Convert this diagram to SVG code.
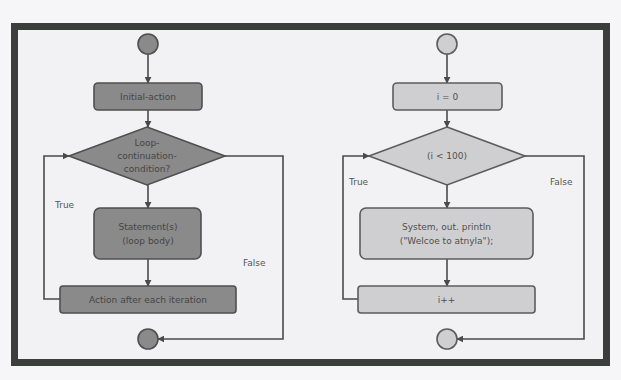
<svg xmlns="http://www.w3.org/2000/svg" width="621" height="380" viewBox="0 0 621 380">
  <defs>
    <marker id="ah" viewBox="0 0 10 10" refX="9" refY="5" markerWidth="7" markerHeight="7" orient="auto" markerUnits="userSpaceOnUse">
      <path d="M0,0 L10,5 L0,10 z" fill="#4a4a4a"/>
    </marker>
    <style>
      .dark { fill: #8a8a8a; stroke: #4f4f4f; stroke-width: 1.6; }
      .light { fill: #cfcfd1; stroke: #5c5c5c; stroke-width: 1.6; }
      .t { font-family: "DejaVu Sans", Verdana, sans-serif; font-size: 9px; text-anchor: middle; dominant-baseline: central; }
      .td { fill: #454545; }
      .tl { fill: #505050; }
      .lbl { font-family: "DejaVu Sans", Verdana, sans-serif; font-size: 9px; fill: #555; }
      .c { fill: none; stroke: #4a4a4a; stroke-width: 1.6; }
    </style>
  </defs>
  <rect x="0" y="0" width="621" height="380" fill="#f6f6f8"/>
  <rect x="14.5" y="26.5" width="592" height="336" fill="#f2f2f4" stroke="#3b3e3b" stroke-width="7"/>

  <g id="connectors">
    <!-- left -->
    <line class="c" x1="148" y1="54" x2="148" y2="83" marker-end="url(#ah)"/>
    <line class="c" x1="148" y1="110" x2="148" y2="127" marker-end="url(#ah)"/>
    <line class="c" x1="148" y1="185" x2="148" y2="208" marker-end="url(#ah)"/>
    <line class="c" x1="148" y1="259" x2="148" y2="286" marker-end="url(#ah)"/>
    <polyline class="c" points="60,299 44,299 44,156 69,156" marker-end="url(#ah)"/>
    <polyline class="c" points="225,156 283,156 283,339 158,339" marker-end="url(#ah)"/>
    <!-- right -->
    <line class="c" x1="447" y1="54" x2="447" y2="83" marker-end="url(#ah)"/>
    <line class="c" x1="447" y1="110" x2="447" y2="127" marker-end="url(#ah)"/>
    <line class="c" x1="447" y1="185" x2="447" y2="208" marker-end="url(#ah)"/>
    <line class="c" x1="447" y1="259" x2="447" y2="286" marker-end="url(#ah)"/>
    <polyline class="c" points="358,299 343,299 343,156 369,156" marker-end="url(#ah)"/>
    <polyline class="c" points="525,156 584,156 584,339 457,339" marker-end="url(#ah)"/>
    <text class="lbl" x="55" y="208">True</text>
    <text class="lbl" x="243" y="266">False</text>
    <text class="lbl" x="349" y="185">True</text>
    <text class="lbl" x="550" y="185">False</text>
  </g>

  <g id="start-left"><circle class="dark" cx="148" cy="44" r="10"/></g>
  <g id="initial-action">
    <rect class="dark" x="94" y="83" width="108" height="27" rx="4"/>
    <text class="t td" x="148" y="96.5">Initial-action</text>
  </g>
  <g id="loop-condition">
    <polygon class="dark" points="147,127 225,156 147,185 69,156"/>
    <text class="t td" x="147" y="143">Loop-</text>
    <text class="t td" x="147" y="156">continuation-</text>
    <text class="t td" x="147" y="169">condition?</text>
  </g>
  <g id="statements">
    <rect class="dark" x="94" y="208" width="107" height="51" rx="6"/>
    <text class="t td" x="148" y="227">Statement(s)</text>
    <text class="t td" x="148" y="241">(loop body)</text>
  </g>
  <g id="action-after">
    <rect class="dark" x="60" y="286" width="176" height="27" rx="3"/>
    <text class="t td" x="148" y="299.5">Action after each iteration</text>
  </g>
  <g id="end-left"><circle class="dark" cx="148" cy="339" r="10"/></g>

  <g id="start-right"><circle class="light" cx="447" cy="44" r="10"/></g>
  <g id="init-i">
    <rect class="light" x="393" y="83" width="109" height="27" rx="4"/>
    <text class="t tl" x="447.5" y="96.5">i = 0</text>
  </g>
  <g id="cond-i">
    <polygon class="light" points="447,127 525,156 447,185 369,156"/>
    <text class="t tl" x="447" y="156">(i &lt; 100)</text>
  </g>
  <g id="println">
    <rect class="light" x="360" y="208" width="173" height="51" rx="6"/>
    <text class="t tl" x="446.5" y="227">System, out. println</text>
    <text class="t tl" x="446.5" y="241">("Welcoe to atnyla");</text>
  </g>
  <g id="increment">
    <rect class="light" x="358" y="286" width="177" height="27" rx="3"/>
    <text class="t tl" x="446.5" y="299.5">i++</text>
  </g>
  <g id="end-right"><circle class="light" cx="447" cy="339" r="10"/></g>
</svg>
